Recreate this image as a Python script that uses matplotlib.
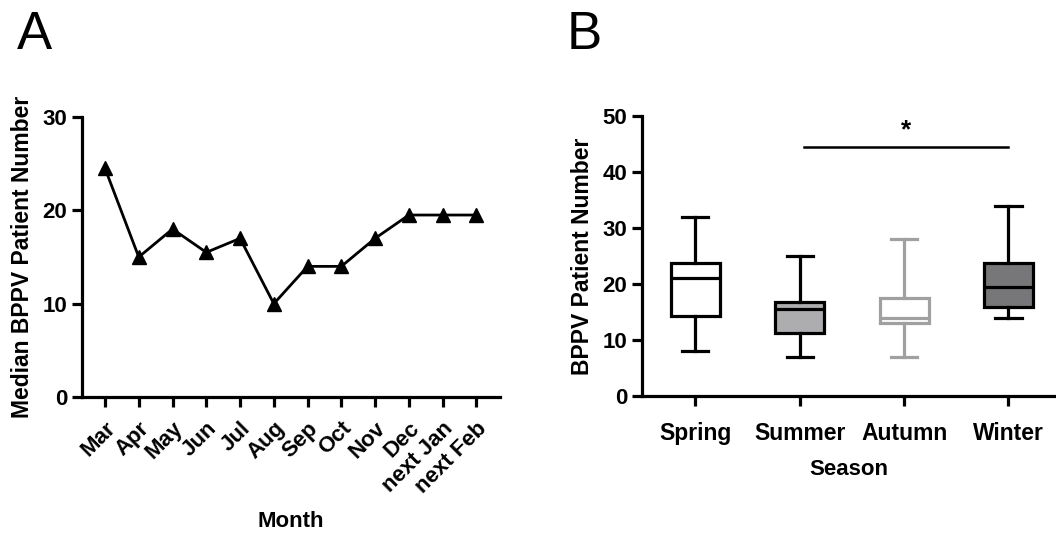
import numpy as np
import matplotlib.pyplot as plt

plt.rcParams["font.family"] = ["Liberation Sans", "DejaVu Sans"]
plt.rcParams["font.weight"] = "bold"

months = ["Mar", "Apr", "May", "Jun", "Jul", "Aug", "Sep", "Oct", "Nov",
          "Dec", "next Jan", "next Feb"]
median_count = [24.5, 15, 18, 15.5, 17, 10, 14, 14, 17, 19.5, 19.5, 19.5]

seasons = ["Spring", "Summer", "Autumn", "Winter"]
whisker_low = [8, 7, 7, 14]
q1 = [14.3, 11.2, 13, 15.9]
medians = [21, 15.5, 14, 19.5]
q3 = [23.8, 16.8, 17.5, 23.8]
whisker_high = [32, 25, 28, 34]
box_fill = ["white", "#adadb0", "white", "#77777a"]
box_edge = ["black", "black", "#a0a0a0", "black"]

fig = plt.figure(figsize=(10.56, 5.33), dpi=100)
lw = 2.3

# panel A
ax1 = fig.add_axes([0.0777, 0.255, 0.3958, 0.5255])
x = np.arange(len(months))
ax1.plot(x, median_count, color="black", lw=2.0, marker="^", ms=9.5)
ax1.set_xlim(-0.68, 11.7)
ax1.set_ylim(0, 30)
ax1.set_yticks([0, 10, 20, 30])
ax1.set_xticks(x)
ax1.set_xticklabels(months, rotation=45, ha="right", rotation_mode="anchor")
ax1.set_ylabel("Median BPPV Patient Number", fontsize=16.5,
               fontweight="bold", labelpad=6)
ax1.set_xlabel("Month", fontsize=16, fontweight="bold", labelpad=10)

# panel B
ax2 = fig.add_axes([0.608, 0.257, 0.3915, 0.5253])
pos = np.arange(1, 5)
for i in range(4):
    stats = [{"whislo": whisker_low[i], "q1": q1[i], "med": medians[i],
              "q3": q3[i], "whishi": whisker_high[i], "fliers": []}]
    c = box_edge[i]
    ax2.bxp(stats, positions=[pos[i]], widths=0.47, patch_artist=True,
            showfliers=False,
            boxprops=dict(facecolor=box_fill[i], edgecolor=c, lw=lw),
            medianprops=dict(color=c, lw=lw),
            whiskerprops=dict(color=c, lw=lw),
            capprops=dict(color=c, lw=lw), capwidths=0.25)
ax2.plot([2.04, 4.0], [44.5, 44.5], color="black", lw=1.8)
ax2.text(3.02, 45.3, "*", ha="center", va="bottom", fontsize=19,
         fontweight="bold")
ax2.set_xlim(0.49, 4.45)
ax2.set_ylim(0, 50)
ax2.set_yticks([0, 10, 20, 30, 40, 50])
ax2.set_xticks(pos)
ax2.set_xticklabels(seasons)
ax2.set_ylabel("BPPV Patient Number", fontsize=16.5, fontweight="bold",
               labelpad=6)
ax2.set_xlabel("Season", fontsize=16, fontweight="bold", labelpad=10)

for ax in (ax1, ax2):
    for s in ("top", "right"):
        ax.spines[s].set_visible(False)
    for s in ("left", "bottom"):
        ax.spines[s].set_linewidth(lw)
    ax.tick_params(width=lw, length=7, labelsize=16)
ax2.tick_params(axis="x", labelsize=16.5, pad=12)
ax1.tick_params(axis="x", labelsize=16, pad=8)

fig.text(0.016, 0.935, "A", fontsize=38, fontweight="normal", va="center")
fig.text(0.537, 0.935, "B", fontsize=38, fontweight="normal", va="center")

fig.savefig("out.png", dpi=100)
